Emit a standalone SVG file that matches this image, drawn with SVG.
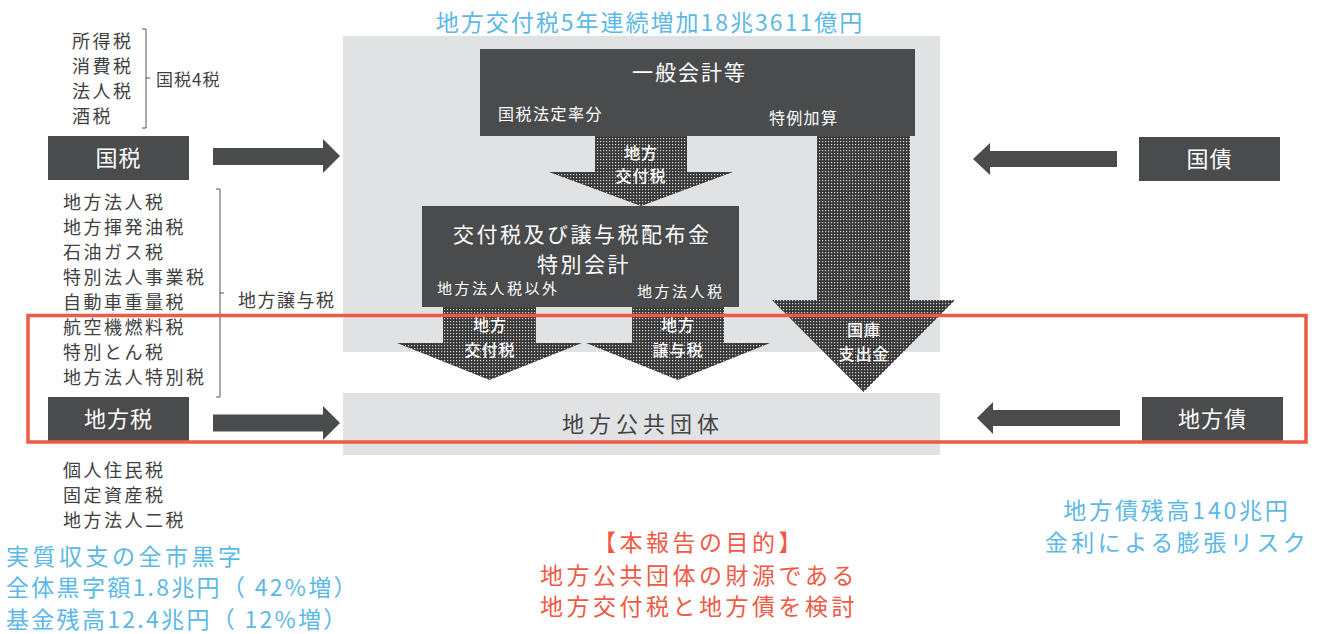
<svg xmlns="http://www.w3.org/2000/svg" width="1318" height="634" viewBox="0 0 1318 634">
<defs>
<pattern id="dots" width="3" height="3" patternUnits="userSpaceOnUse">
<rect width="3" height="3" fill="#383838"/>
<rect x="0" y="0" width="1.2" height="1.2" fill="#d4d4d4"/>
</pattern>
<style>
text{font-family:"Noto Sans CJK JP","Noto Sans",sans-serif}
.panel{fill:#e1e2e4}
.dark{fill:#4a4b4d}
.wt{fill:#ffffff}
.lst{fill:#404040;font-size:18px;letter-spacing:2.5px}
.blue{fill:#5cb8e6;font-size:23px;letter-spacing:3.5px}
.red{fill:#ef5a45;font-size:23px;letter-spacing:3.5px}
.dot{fill:url(#dots)}
.at{fill:#ffffff;font-size:16px;font-weight:500;letter-spacing:1px;text-anchor:middle}
.brk{fill:none;stroke:#555;stroke-width:1}
</style>
</defs>
<rect width="1318" height="634" fill="#ffffff"/>

<text x="650" y="31" text-anchor="middle" style="fill:#5cb8e6;font-size:23px;letter-spacing:2px">地方交付税5年連続増加18兆3611億円</text>

<g id="panel"><rect class="panel" x="343" y="36" width="597" height="316"/></g>

<g id="ippan">
<rect class="dark" x="480" y="49" width="435" height="87"/>
<text class="wt" x="632" y="80" style="font-size:21px;letter-spacing:2px">一般会計等</text>
<text class="wt" x="498" y="120" style="font-size:16px;letter-spacing:1.5px">国税法定率分</text>
<text class="wt" x="769" y="124" style="font-size:16px;letter-spacing:1.3px">特例加算</text>
</g>

<g id="connectors">
<polygon class="dot" points="595,136 687,136 687,172 733,172 641,206 549,172 595,172"/>
<polygon class="dot" points="817,136 910,136 910,300 955,300 863.5,392 772,300 817,300"/>
<polygon class="dot" points="443,307 536,307 536,343 582,343 489.5,380 397,343 443,343"/>
<polygon class="dot" points="632,307 724,307 724,343 770,343 678,380 586,343 632,343"/>
<polygon class="dark" points="213,148 323,148 323,139 340,156 323,173 323,165 213,165"/>
<polygon class="dark" points="213,414.5 323,414.5 323,406 340,423 323,440 323,431.5 213,431.5"/>
<polygon class="dark" points="1117,151 990,151 990,143 973,159 990,175 990,167 1117,167"/>
<polygon class="dark" points="1120,410 993,410 993,402 977,418 993,434 993,426 1120,426"/>
<text class="at" x="641" y="159">地方</text>
<text class="at" x="641" y="182">交付税</text>
<text class="at" x="864" y="336">国庫</text>
<text class="at" x="864" y="360">支出金</text>
<text class="at" x="490" y="331">地方</text>
<text class="at" x="490" y="356">交付税</text>
<text class="at" x="678" y="331">地方</text>
<text class="at" x="678" y="356">譲与税</text>
</g>

<g id="tokubetsu">
<rect class="dark" x="422" y="206" width="317" height="101"/>
<text class="wt" x="453" y="242" style="font-size:21px;letter-spacing:2.5px">交付税及び譲与税配布金</text>
<text class="wt" x="537" y="272" style="font-size:21px;letter-spacing:2.5px">特別会計</text>
<text class="wt" x="437" y="294" style="font-size:15px;letter-spacing:2.5px">地方法人税以外</text>
<text class="wt" x="637" y="297" style="font-size:15px;letter-spacing:2.5px">地方法人税</text>
</g>

<g id="chihou-koukyou">
<rect class="panel" x="343" y="393" width="597" height="62"/>
<text x="562" y="432" style="fill:#444;font-size:22px;letter-spacing:5px">地方公共団体</text>
</g>

<g id="kokuzei">
<rect class="dark" x="48" y="136" width="141" height="44"/>
<text class="wt" x="118.5" y="166" text-anchor="middle" style="font-size:22px;letter-spacing:1px">国税</text>
<text class="lst" x="72" y="48">所得税</text>
<text class="lst" x="72" y="73">消費税</text>
<text class="lst" x="72" y="98">法人税</text>
<text class="lst" x="72" y="123">酒税</text>
<path class="brk" d="M142,29 H146 V128 H142 M146,78 H150"/>
<text x="156" y="86" style="fill:#404040;font-size:17px;letter-spacing:1px">国税4税</text>
</g>

<g id="chihouzei">
<rect class="dark" x="48" y="397" width="141" height="44"/>
<text class="wt" x="118.5" y="427" text-anchor="middle" style="font-size:22px;letter-spacing:1px">地方税</text>
<text class="lst" x="63" y="209">地方法人税</text>
<text class="lst" x="63" y="234">地方揮発油税</text>
<text class="lst" x="63" y="259">石油ガス税</text>
<text class="lst" x="63" y="284">特別法人事業税</text>
<text class="lst" x="63" y="309">自動車重量税</text>
<text class="lst" x="63" y="334">航空機燃料税</text>
<text class="lst" x="63" y="359">特別とん税</text>
<text class="lst" x="63" y="384">地方法人特別税</text>
<path class="brk" d="M216,189 H220 V397 H216 M220,293 H224"/>
<text x="238" y="307" style="fill:#404040;font-size:18px;letter-spacing:1.5px">地方譲与税</text>
<text class="lst" x="63" y="477">個人住民税</text>
<text class="lst" x="63" y="502">固定資産税</text>
<text class="lst" x="63" y="527">地方法人二税</text>
</g>

<g id="kokusai">
<rect class="dark" x="1139" y="137" width="141" height="44"/>
<text class="wt" x="1209.5" y="167" text-anchor="middle" style="font-size:22px;letter-spacing:1px">国債</text>
</g>

<g id="chihousai">
<rect class="dark" x="1142" y="397" width="141" height="44"/>
<text class="wt" x="1212.5" y="427" text-anchor="middle" style="font-size:22px;letter-spacing:1px">地方債</text>
</g>

<g id="highlight">
<rect x="28" y="315.5" width="1278" height="126.5" fill="none" stroke="#ef5a45" stroke-width="3.5"/>
</g>

<g id="notes">
<text class="blue" x="6" y="565">実質収支の全市黒字</text>
<text class="blue" x="6" y="596" style="letter-spacing:2.3px">全体黒字額1.8兆円（ 42%増）</text>
<text class="blue" x="6" y="628" style="letter-spacing:2.3px">基金残高12.4兆円（ 12%増）</text>
<text class="red" x="699" y="551" text-anchor="middle">【本報告の目的】</text>
<text class="red" x="699" y="584" text-anchor="middle">地方公共団体の財源である</text>
<text class="red" x="699" y="615" text-anchor="middle">地方交付税と地方債を検討</text>
<text class="blue" x="1177" y="519" text-anchor="middle" style="letter-spacing:2.8px">地方債残高140兆円</text>
<text class="blue" x="1177" y="551" text-anchor="middle">金利による膨張リスク</text>
</g>
</svg>
